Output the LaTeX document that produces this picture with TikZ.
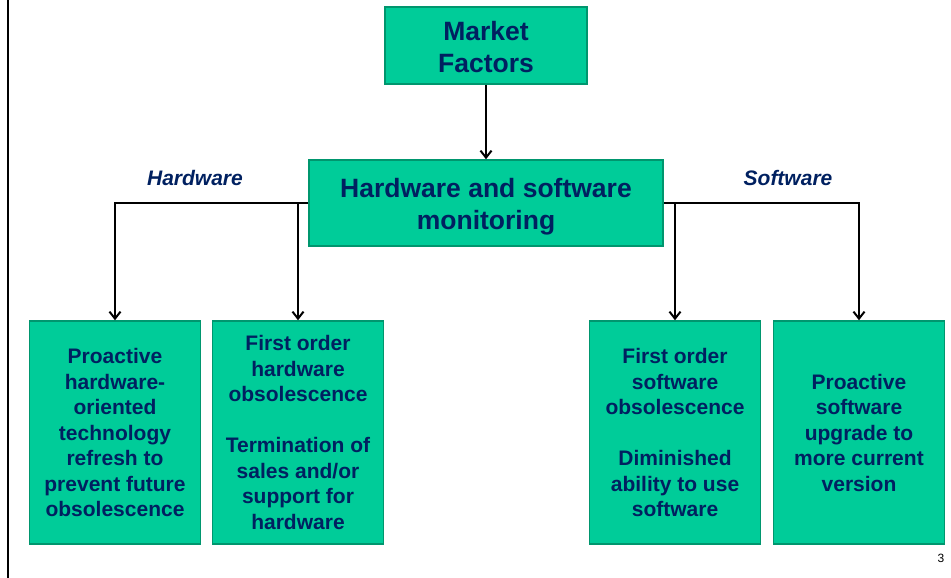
\documentclass[tikz,border=0pt]{standalone}
\usepackage{fontspec}
\setmainfont{Liberation Sans}
\usetikzlibrary{arrows.meta}
\definecolor{boxfill}{RGB}{0,204,153}
\definecolor{boxline}{RGB}{0,150,110}
\definecolor{navy}{RGB}{0,32,96}
\tikzset{
  topbox/.style={draw=boxline, line width=1.5pt, fill=boxfill},
  toptext/.style={text=navy, align=center, inner sep=0pt,
    font=\fontsize{26.5}{32}\selectfont\bfseries},
  leafbox/.style={draw=boxline, line width=1.5pt, fill=boxfill, text=navy, align=center,
    minimum width=171, minimum height=223, inner sep=0pt,
    font=\fontsize{21}{25.5}\selectfont\bfseries},
  branchlabel/.style={text=navy, font=\fontsize{21}{25}\selectfont\bfseries\itshape},
  link/.style={line width=2pt, black, -{Straight Barb[length=7pt,width=11pt,line width=2pt]}},
}

\begin{document}
\begin{tikzpicture}[x=1pt, y=-1pt]
    \useasboundingbox (0,0) rectangle (951,578);
    % Frame line.
    \draw[line width=1.5pt, black] (8,0) -- (8,578);
    % Top boxes.
    \node[topbox, minimum width=202, minimum height=77] (market) at (486,45.5) {};
    \node[toptext] (markettext) at (486,47.5) {Market\\Factors};
    \node[topbox, minimum width=354, minimum height=86] (monitor) at (486,203) {};
    \node[toptext] (monitortext) at (486,207) {Hardware and software\\monitoring};
    % Branch labels.
    \node[branchlabel] (hwlabel) at (195,178) {Hardware};
    \node[branchlabel] (swlabel) at (788,178) {Software};
    % Bottom boxes.
    \node[leafbox] (hwproactive) at (115,432.5) {Proactive\\hardware-\\oriented\\technology\\refresh to\\prevent future\\obsolescence};
    \node[leafbox] (hwfirst) at (298,432.5) {First order\\hardware\\obsolescence\\[25.5pt]Termination of\\sales and/or\\support for\\hardware};
    \node[leafbox] (swfirst) at (675,432.5) {First order\\software\\obsolescence\\[25.5pt]Diminished\\ability to use\\software};
    \node[leafbox] (swproactive) at (859,432.5) {Proactive\\software\\upgrade to\\more current\\version};
    % Page number.
    \node[font=\fontsize{12}{14}\selectfont] (pagenum) at (941,558) {3};
    % Connectors.
    \draw[link] (market) -- (monitor);
    \draw[link] (monitor.west) -| (hwproactive.north);
    \draw[link] (monitor.west -| hwfirst.north) -- (hwfirst.north);
    \draw[link] (monitor.east) -| (swproactive.north);
    \draw[link] (monitor.east -| swfirst.north) -- (swfirst.north);
\end{tikzpicture}
\end{document}
